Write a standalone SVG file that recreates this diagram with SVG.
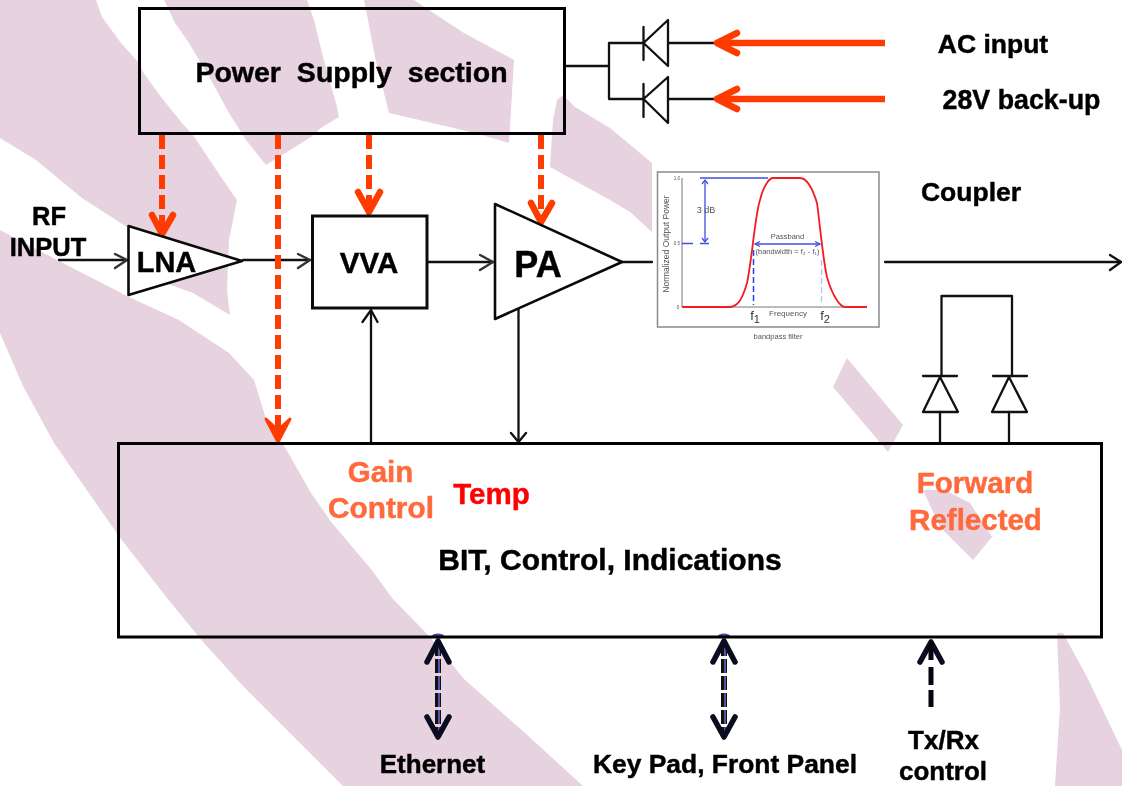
<svg xmlns="http://www.w3.org/2000/svg" width="1122" height="786" viewBox="0 0 1122 786">
<style>
text{font-family:"Liberation Sans",Arial,sans-serif;font-weight:700;fill:#000;stroke:#000;stroke-width:.45;text-anchor:middle;filter:url(#soft)}
.bg{fill:#e6d3df}
.box{fill:none;stroke:#000;stroke-width:3}
.amp{fill:#fff;stroke:#0a0a0a;stroke-width:2.6;stroke-linejoin:round}
.w{fill:none;stroke:#111;stroke-width:2.3;stroke-linecap:round;stroke-linejoin:round}
.a{fill:none;stroke:#333;stroke-width:2.4;stroke-linecap:round;stroke-linejoin:round}
.d{fill:none;stroke:#ff3b00;stroke-width:6;stroke-dasharray:14 6}
.h{fill:none;stroke:#ff3b00;stroke-width:6.5;stroke-linecap:round;stroke-linejoin:round}
.r{fill:none;stroke:#ff3b00;stroke-width:6.5}
.bh{fill:none;stroke:#0c0c20;stroke-width:5.500;stroke-linecap:round;stroke-linejoin:round}
.o{fill:#ff6a3c;stroke:#ff6a3c}
.t{fill:#f00;stroke:#f00}
.f{font-weight:400;fill:#555;stroke:none;filter:none}
.fb{fill:none;stroke:#3f4fe0;stroke-width:1.3}
</style>
<defs><filter id="soft" x="-5%" y="-5%" width="110%" height="110%"><feGaussianBlur stdDeviation="0.35"/></filter></defs>
<g id="background">
<polygon class="bg" points="0,0 96,0 102,17 121,43 139,63 143,72 161,97 182,123 193,135 221,177 237,200 229,240 227,290 230,315 193,293 157,280 127,227 82,198 36,160 0,138"/>
<polygon class="bg" points="0,230 57,260 129,297 179,320 229,353 254,380 266,419 286,449 311,493 332,523 371,569 393,599 429,636 464,679 525,733 583,786 343,786 296,739 243,686 204,643 171,603 121,539 86,489 54,443 23,386 0,333"/>
<polygon class="bg" points="164,0 307,0 314,20 323,57 337,107 339,117 321,128 311,137 266,165 246,140 229,113 211,80 189,43 175,23"/>
<polygon class="bg" points="364,0 414,0 429,10 464,33 514,60 509,143 475,133 389,113 375,57 368,20"/>
<polygon class="bg" points="563,95 575,107 610,128 652,163 652,232 630,212 610,200 550,167 553,120 557,100"/>
<polygon class="bg" points="847,358 903,425 888,452 833,387"/>
<polygon class="bg" points="923,490 945,490 970,503 992,537 973,560 940,527"/>
<polygon class="bg" points="1057,633 1063,633 1087,677 1122,750 1122,786 1055,786 1060,707"/>
</g>
<g id="connectors">
<path class="w" d="M59 260H127M243 260H310M427 262H493M371 442V311M518.500 305V441M622 262H652M885 262H1121"/>
<path class="a" d="M115 254L127 260L115 268M298 254L310 260L298 268M480 255L493 262L480 270"/>
<path class="w" d="M362.500 322L371 310L377.500 322M511 433L518.500 442L526 433M1110 255L1121 262L1110 270"/>
<path class="w" d="M565 66H609M644 43H609V99H644M668 43H714M668 99H714M941.500 376V296H1012V376M940 412V443M1009 412V443"/>
<path class="d" d="M162 135V232M278 135V438M369 135V210M541 135V221"/>
<path class="h" d="M152 215L162 234L173 215M358 192L369 212L380 192M531 203L541 222L552 203"/>
<path d="M266 419L278 442L290 419L278 430Z" fill="#ff3b00" stroke="#ff3b00" stroke-width="3" stroke-linejoin="round"/>
<path class="r" d="M885 43H718M885 99H718"/>
<path class="h" d="M737 33L717 43L737 53M737 89L717 99L737 109"/>
<path d="M438 642V736M724 642V736" fill="none" stroke="#111" stroke-width="6" stroke-dasharray="14 3"/>
<path d="M439 642V736M725 642V736" fill="none" stroke="#5555aa" stroke-width="2" stroke-dasharray="14 3"/>
<ellipse cx="438" cy="636" rx="6" ry="2.500" fill="#4848a8"/>
<ellipse cx="724" cy="636" rx="6" ry="2.500" fill="#4848a8"/>
<path class="bh" d="M427 662L438 641L449 662M427 717L438 737L449 717M713 662L724 641L735 662M713 717L724 737L735 717M920 662L931 642L942 662"/>
<path d="M931 667V685M931 690V707M931 642V660" fill="none" stroke="#050510" stroke-width="5"/>
</g>
<g id="power-supply"><rect class="box" x="139.500" y="8.500" width="425" height="125"/><text x="351.500" y="82" font-size="28.500" word-spacing="8">Power Supply section</text></g>
<g id="diode-ac"><path class="w" d="M643.500 27V60M643.500 43L668 20V66Z"/></g>
<g id="diode-28v"><path class="w" d="M643.500 84V117M643.500 99L668 77V123Z"/></g>
<g id="label-ac"><text x="993" y="53" font-size="26.500">AC input</text></g>
<g id="label-28v"><text x="1021.500" y="109" font-size="26.800">28V back-up</text></g>
<g id="label-rf"><text x="49" y="225" font-size="25.500">RF</text><text x="48" y="256" font-size="25.500">INPUT</text></g>
<g id="lna"><polygon class="amp" points="128.500,226 128.500,295 242,261"/><text x="166.500" y="272" font-size="29">LNA</text></g>
<g id="vva"><rect x="312.500" y="216" width="114.500" height="92" fill="#fff" stroke="#0a0a0a" stroke-width="3"/><text x="369" y="273" font-size="29.500">VVA</text></g>
<g id="pa"><polygon class="amp" points="495,204 495,319 622,262" stroke-width="3"/><text x="538" y="277" font-size="36">PA</text></g>
<g id="filter">
<rect x="657.500" y="172" width="221.500" height="155" fill="#fff" stroke="#8a8a8a" stroke-width="1.500"/>
<g filter="url(#soft)">
<path d="M682 178V307H866" fill="none" stroke="#777" stroke-width="1"/>
<path class="fb" d="M700 178H768M705 180V241M682 243.500H693M700 243.500H709M755 244H820"/>
<path class="fb" d="M702 238L705 242L708 238M702 184L705 180L708 184M760 241.500L755 244L760 246.500M815 241.500L820 244L815 246.500"/>
<path d="M753.500 250V305" fill="none" stroke="#2f3fe0" stroke-width="1.500" stroke-dasharray="6 3"/>
<path d="M821.500 260V305" fill="none" stroke="#b8c0f0" stroke-width="1.300" stroke-dasharray="6 3"/>
<path d="M682 307H730C738 306 742 300 747 283C752 260 755 215 760 200C764 184 770 178 773 178H800C808 178 813 190 817 203C820 225 823 260 827 277C832 295 840 307 845 307H867" fill="none" stroke="#f01c24" stroke-width="1.800"/>
<text class="f" x="706" y="213" font-size="9">3 dB</text>
<text class="f" transform="translate(669 244) rotate(-90)" font-size="8.500">Normalized Output Power</text>
<text class="f" x="787.500" y="239" font-size="7.500">Passband</text>
<text class="f" x="787.500" y="254" font-size="7.500">(bandwidth = f₂ - f₁)</text>
<text class="f" x="788" y="316" font-size="8">Frequency</text>
<text class="f" x="755" y="320" font-size="13" style="fill:#333">f<tspan font-size="11" dy="3">1</tspan></text>
<text class="f" x="825" y="320" font-size="13" style="fill:#333">f<tspan font-size="11" dy="3">2</tspan></text>
<text class="f" x="677" y="180" font-size="4.500">1.0</text>
<text class="f" x="677" y="245" font-size="4.500">0.5</text>
<text class="f" x="678" y="309" font-size="4.500">0</text>
<text class="f" x="778" y="339" font-size="7.500">bandpass filter</text>
</g>
</g>
<g id="label-coupler"><text x="971" y="201" font-size="26.500">Coupler</text></g>
<g id="diode-fwd"><path class="w" d="M923 376H957M940 377L923 412H958Z"/></g>
<g id="diode-rev"><path class="w" d="M993 376H1027M1009 377L992 412H1027Z"/></g>
<g id="bit-control">
<rect class="box" x="118.500" y="443.500" width="983" height="193.500"/>
<text x="610" y="570" font-size="30">BIT, Control, Indications</text>
<text class="o" x="380.500" y="482" font-size="29.500">Gain</text>
<text class="o" x="381" y="518" font-size="29.800">Control</text>
<text class="t" x="491.500" y="504" font-size="29.500">Temp</text>
<text class="o" x="975" y="493" font-size="29.500">Forward</text>
<text class="o" x="975.500" y="530" font-size="29.500">Reflected</text>
</g>
<g id="label-ethernet"><text x="432.500" y="773" font-size="26">Ethernet</text></g>
<g id="label-keypad"><text x="725" y="773" font-size="26.400">Key Pad, Front Panel</text></g>
<g id="label-txrx"><text x="943.500" y="749" font-size="26">Tx/Rx</text><text x="943" y="780" font-size="26">control</text></g>
</svg>
